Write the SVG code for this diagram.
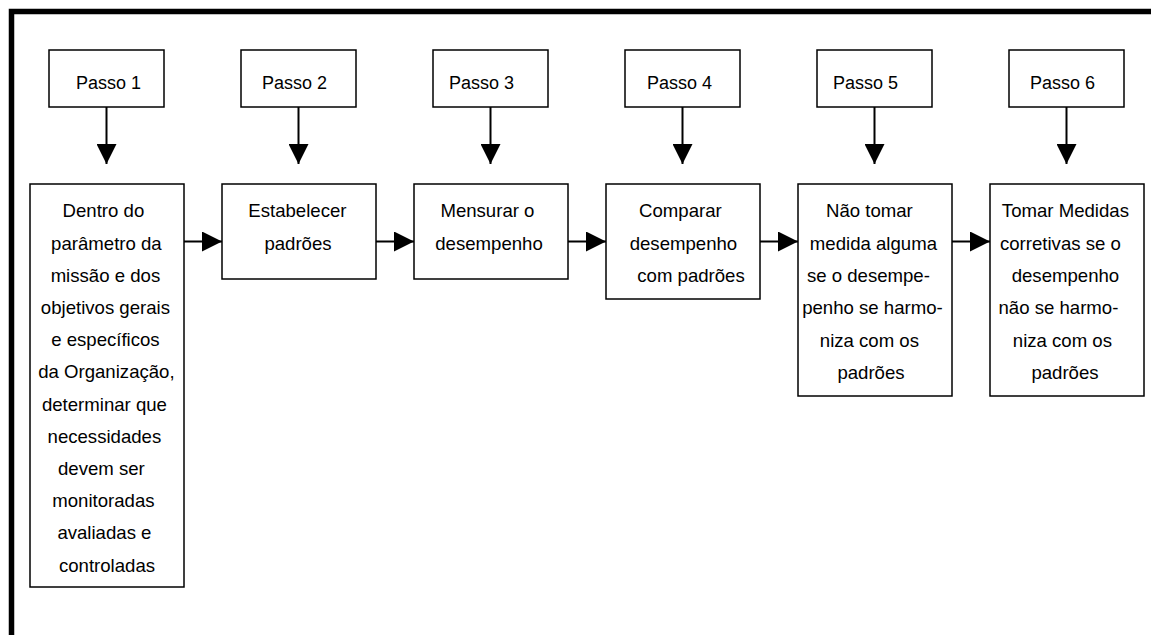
<svg xmlns="http://www.w3.org/2000/svg" width="1151" height="635" viewBox="0 0 1151 635">
  <style>
    .box { fill: #ffffff; stroke: #000000; stroke-width: 1.5; }
    .lbl { font-family: "Liberation Sans", Arial, sans-serif; font-size: 18px; fill: #000000; }
    .body { font-size: 18.6px; text-anchor: middle; }
    .conn { stroke: #000000; stroke-width: 2; fill: none; marker-end: url(#head); }
    .frame { stroke: #000000; stroke-width: 5.5; fill: none; stroke-linejoin: miter; }
  </style>
  <defs>
    <marker id="head" viewBox="0 0 20 20" refX="20" refY="10" markerWidth="20" markerHeight="20" markerUnits="userSpaceOnUse" orient="auto">
      <path d="M0,0 L20,10 L0,20 Z" fill="#000000"/>
    </marker>
  </defs>

  <rect width="1151" height="635" fill="#ffffff"/>

  <!-- outer frame (top and left edges) -->
  <path class="frame" d="M11.5,640 V11.5 H1156"/>

  <!-- step labels -->
  <g id="passo1"><rect class="box" x="49" y="50" width="115" height="57"/><text class="lbl" x="76" y="89">Passo 1</text></g>
  <g id="passo2"><rect class="box" x="241" y="50" width="115" height="57"/><text class="lbl" x="262" y="89">Passo 2</text></g>
  <g id="passo3"><rect class="box" x="433" y="50" width="115" height="57"/><text class="lbl" x="449" y="89">Passo 3</text></g>
  <g id="passo4"><rect class="box" x="625" y="50" width="115" height="57"/><text class="lbl" x="647" y="89">Passo 4</text></g>
  <g id="passo5"><rect class="box" x="817" y="50" width="115" height="57"/><text class="lbl" x="833" y="89">Passo 5</text></g>
  <g id="passo6"><rect class="box" x="1009" y="50" width="115" height="57"/><text class="lbl" x="1030" y="89">Passo 6</text></g>

  <!-- process boxes -->
  <g id="etapa1">
    <rect class="box" x="30" y="184" width="154" height="403"/>
    <text class="lbl body">
      <tspan x="106" y="217.3">Dentro do</tspan>
      <tspan x="109" y="249.5">parâmetro da</tspan>
      <tspan x="108" y="281.7">missão e dos</tspan>
      <tspan x="108" y="313.9">objetivos gerais</tspan>
      <tspan x="108" y="346.1">e específicos</tspan>
      <tspan x="109" y="378.3">da Organização,</tspan>
      <tspan x="107" y="410.5">determinar que</tspan>
      <tspan x="107" y="442.7">necessidades</tspan>
      <tspan x="104" y="474.9">devem ser</tspan>
      <tspan x="106" y="507.1">monitoradas</tspan>
      <tspan x="107" y="539.3">avaliadas e</tspan>
      <tspan x="107" y="571.5">controladas</tspan>
    </text>
  </g>
  <g id="etapa2">
    <rect class="box" x="222" y="184" width="154" height="95"/>
    <text class="lbl body">
      <tspan x="300" y="217.3">Estabelecer</tspan>
      <tspan x="298" y="249.7">padrões</tspan>
    </text>
  </g>
  <g id="etapa3">
    <rect class="box" x="414" y="184" width="154" height="95"/>
    <text class="lbl body">
      <tspan x="490" y="217.3">Mensurar o</tspan>
      <tspan x="489" y="249.7">desempenho</tspan>
    </text>
  </g>
  <g id="etapa4">
    <rect class="box" x="606" y="184" width="154" height="115"/>
    <text class="lbl body">
      <tspan x="683" y="217.3">Comparar</tspan>
      <tspan x="686" y="249.7">desempenho</tspan>
      <tspan x="691" y="282">com padrões</tspan>
    </text>
  </g>
  <g id="etapa5">
    <rect class="box" x="798" y="184" width="154" height="212"/>
    <text class="lbl body">
      <tspan x="872" y="217.3">Não tomar</tspan>
      <tspan x="876" y="249.6">medida alguma</tspan>
      <tspan x="871" y="281.9">se o desempe-</tspan>
      <tspan x="875" y="314.2">penho se harmo-</tspan>
      <tspan x="872" y="346.5">niza com os</tspan>
      <tspan x="871" y="378.8">padrões</tspan>
    </text>
  </g>
  <g id="etapa6">
    <rect class="box" x="990" y="184" width="154" height="212"/>
    <text class="lbl body">
      <tspan x="1068" y="217.3">Tomar Medidas</tspan>
      <tspan x="1063" y="249.6">corretivas se o</tspan>
      <tspan x="1068" y="281.9">desempenho</tspan>
      <tspan x="1061" y="314.2">não se harmo-</tspan>
      <tspan x="1065" y="346.5">niza com os</tspan>
      <tspan x="1065" y="378.8">padrões</tspan>
    </text>
  </g>

  <!-- connectors -->
  <g id="connectors">
    <line class="conn" x1="106.5" y1="107" x2="106.5" y2="164"/>
    <line class="conn" x1="298.5" y1="107" x2="298.5" y2="164"/>
    <line class="conn" x1="490.5" y1="107" x2="490.5" y2="164"/>
    <line class="conn" x1="682.5" y1="107" x2="682.5" y2="164"/>
    <line class="conn" x1="874.5" y1="107" x2="874.5" y2="164"/>
    <line class="conn" x1="1066.5" y1="107" x2="1066.5" y2="164"/>

    <line class="conn" x1="184" y1="241.5" x2="222" y2="241.5"/>
    <line class="conn" x1="376" y1="241.5" x2="414" y2="241.5"/>
    <line class="conn" x1="568" y1="241.5" x2="606" y2="241.5"/>
    <line class="conn" x1="760" y1="241.5" x2="798" y2="241.5"/>
    <line class="conn" x1="952" y1="241.5" x2="990" y2="241.5"/>
  </g>
</svg>
